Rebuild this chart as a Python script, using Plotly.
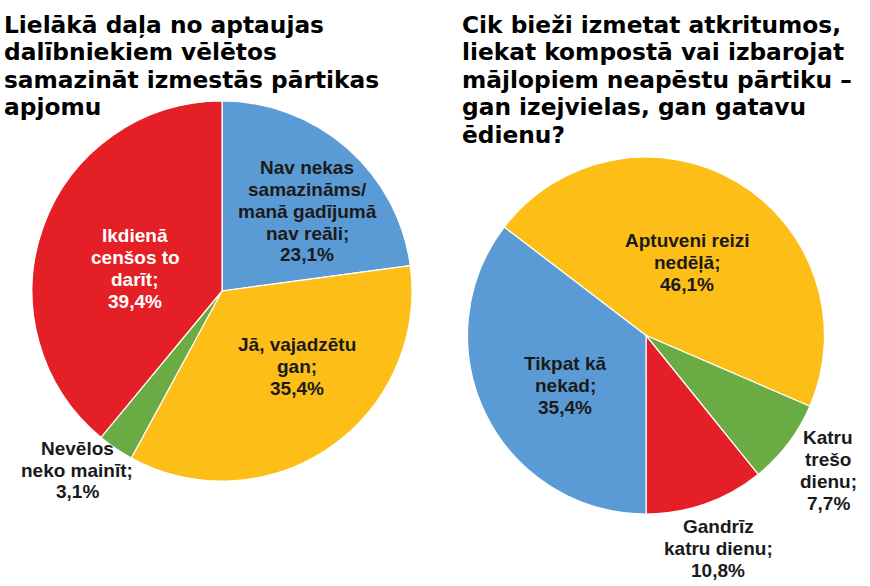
import plotly.graph_objects as go

# left pie - willingness to reduce food waste
left_labels = ["Nav nekas<br>samazināms/<br>manā gadījumā<br>nav reāli",
               "Jā, vajadzētu<br>gan",
               "Nevēlos<br>neko mainīt",
               "Ikdienā<br>cenšos to<br>darīt"]
left_values = [23.1, 35.4, 3.1, 39.4]

# right pie - how often food is thrown away
right_labels = ["Aptuveni reizi<br>nedēļā",
                "Katru<br>trešo<br>dienu",
                "Gandrīz<br>katru dienu",
                "Tikpat kā<br>nekad"]
right_values = [46.1, 7.7, 10.8, 35.4]

left_title = ["Lielākā daļa no aptaujas", "dalībniekiem vēlētos",
              "samazināt izmestās pārtikas", "apjomu"]
right_title = ["Cik bieži izmetat atkritumos,", "liekat kompostā vai izbarojat",
               "mājlopiem neapēstu pārtiku –", "gan izejvielas, gan gatavu", "ēdienu?"]

BLUE, YELLOW, GREEN, RED = "#5b9bd5", "#fdbf17", "#6aab44", "#e41f26"
left_colors = [BLUE, YELLOW, GREEN, RED]
right_colors = [YELLOW, GREEN, RED, BLUE]

# label block centres in pixels (layout only)
left_pos = [(307, 211), (297, 366), (77, 470), (135, 268)]
right_pos = [(687, 262), (828, 470), (718, 548), (565, 385)]
left_text_col = ["#1a1a1a", "#1a1a1a", "#1a1a1a", "white"]
right_text_col = ["#1a1a1a"] * 4
LINE_PITCH = 22
TITLE_PITCH = 27.4

W, H = 870, 586

fig = go.Figure()
fig.add_trace(go.Pie(labels=left_labels, values=left_values, sort=False,
                     direction="clockwise", rotation=0, textinfo="none",
                     marker=dict(colors=left_colors, line=dict(color="white", width=1.2)),
                     domain=dict(x=[32 / W, 412 / W], y=[1 - 482 / H, 1 - 100 / H]),
                     showlegend=False))
fig.add_trace(go.Pie(labels=right_labels, values=right_values, sort=False,
                     direction="clockwise", rotation=-52.6, textinfo="none",
                     marker=dict(colors=right_colors, line=dict(color="white", width=1.2)),
                     domain=dict(x=[467 / W, 825 / W], y=[1 - 514 / H, 1 - 157 / H]),
                     showlegend=False))


def fmt(v):
    return f"{v:.1f}".replace(".", ",") + "%"


annos = []
for labels, values, pos, cols in [(left_labels, left_values, left_pos, left_text_col),
                                  (right_labels, right_values, right_pos, right_text_col)]:
    for lab, v, (cx, cy), c in zip(labels, values, pos, cols):
        lines = lab.split("<br>")
        lines[-1] += ";"
        lines.append(fmt(v))
        n = len(lines)
        for i, line in enumerate(lines):
            ly = cy + (i - (n - 1) / 2) * LINE_PITCH
            annos.append(dict(x=cx / W, y=1 - ly / H, xref="paper", yref="paper",
                              text=line, showarrow=False, borderpad=0,
                              xanchor="center", yanchor="middle",
                              font=dict(family="Liberation Sans", size=19, color=c,
                                        weight="bold")))

# titles, one annotation per line to keep the tight leading
for lines, x in [(left_title, 3), (right_title, 461)]:
    for i, line in enumerate(lines):
        ly = 24.5 + i * TITLE_PITCH
        annos.append(dict(x=x / W, y=1 - ly / H, xref="paper", yref="paper", text=line,
                          showarrow=False, xanchor="left", yanchor="middle", borderpad=0,
                          font=dict(family="DejaVu Sans", size=23.3, color="black",
                                    weight="bold")))

fig.update_layout(width=W, height=H, margin=dict(l=0, r=0, t=0, b=0),
                  paper_bgcolor="white", plot_bgcolor="white",
                  annotations=annos)

fig.write_html("out.html", config={"displayModeBar": False},
               post_script="document.body.style.margin='0';")
